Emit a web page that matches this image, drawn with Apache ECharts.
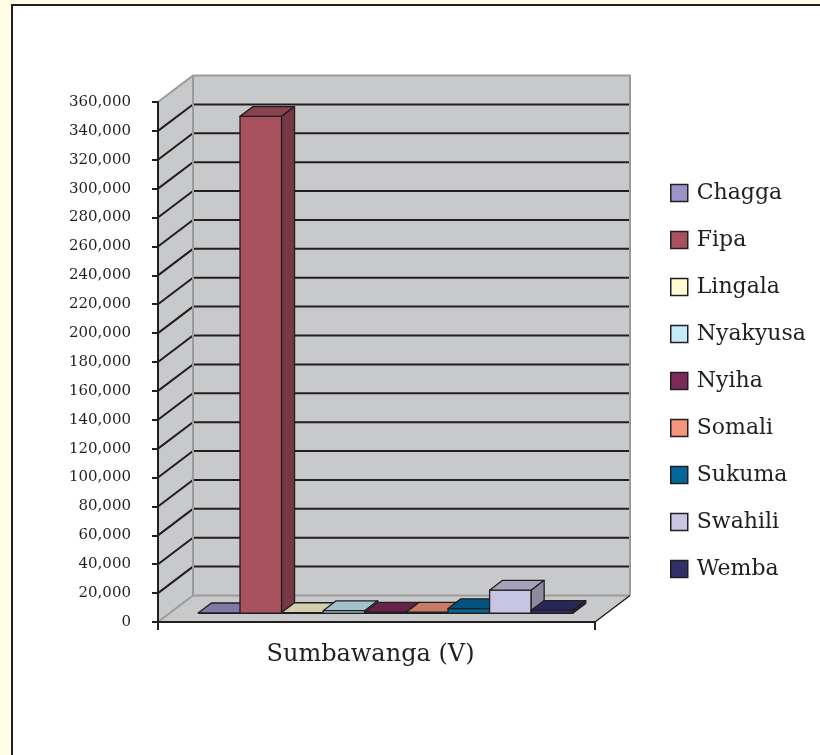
<!DOCTYPE html>
<html>
<head>
<meta charset="utf-8">
<script src="https://cdn.jsdelivr.net/npm/echarts@6/dist/echarts.min.js"></script>
<style>
  html, body { margin: 0; padding: 0; background: #fffde6; }
  #frame {
    position: absolute; left: 11px; top: 4px; right: 0; bottom: 0;
    background: #ffffff;
    border-left: 2px solid #231f20; border-top: 2px solid #231f20;
  }
  #chart { position: absolute; left: 0; top: 0; width: 820px; height: 755px; }
</style>
</head>
<body>
<div id="frame"></div>
<div id="chart"></div>
<script>
// Speakers by language, Sumbawanga (V)
const categories = ['Sumbawanga (V)'];
const languages = ['Chagga', 'Fipa', 'Lingala', 'Nyakyusa', 'Nyiha', 'Somali', 'Sukuma', 'Swahili', 'Wemba'];
const speakers = [300, 344000, 500, 1800, 700, 800, 3200, 16000, 2000];
const colors = ['#9b93c9', '#a8525f', '#fffcd2', '#c6ebf8', '#7c2b58', '#f4967b', '#02679b', '#c8c5e3', '#30306b'];
const yTickValues = [0, 20000, 40000, 60000, 80000, 100000, 120000, 140000, 160000, 180000,
                     200000, 220000, 240000, 260000, 280000, 300000, 320000, 340000, 360000];
const yTickLabels = ['0', '20,000', '40,000', '60,000', '80,000', '100,000', '120,000', '140,000', '160,000', '180,000',
                     '200,000', '220,000', '240,000', '260,000', '280,000', '300,000', '320,000', '340,000', '360,000'];

// pseudo-3D layout: full depth of the box in pixels and bar placement inside it
const DEPTH = [35, -26.5];
const BAR_FRONT = 0.33, BAR_BACK = 0.70;
const GROUP_START = 0.066, BAR_WIDTH = 0.0952;
const INK = '#231f20';
const WALL = '#c8c9cb';
const EDGE = '#9b9b9b';
const FONT = 'DejaVu Serif';

function shade(hex, k) {
  const n = parseInt(hex.slice(1), 16);
  const r = Math.round(((n >> 16) & 255) * k);
  const g = Math.round(((n >> 8) & 255) * k);
  const b = Math.round((n & 255) * k);
  return 'rgb(' + r + ',' + g + ',' + b + ')';
}

function renderWalls(params, api) {
  const c0 = api.coord([0, 0]);
  const cTop = api.coord([0, yTickValues[yTickValues.length - 1]]);
  const bw = api.size([1, 0])[0];
  const x0 = c0[0] - bw / 2, x1 = x0 + bw;
  const yb = c0[1], yt = cTop[1];
  const dx = DEPTH[0], dy = DEPTH[1];
  const children = [];
  const fill = { fill: WALL, stroke: null };
  children.push({ type: 'polygon', shape: { points: [[x0, yb], [x0 + dx, yb + dy], [x0 + dx, yt + dy], [x0, yt]] }, style: fill });
  children.push({ type: 'polygon', shape: { points: [[x0 + dx, yb + dy], [x1 + dx, yb + dy], [x1 + dx, yt + dy], [x0 + dx, yt + dy]] }, style: fill });
  children.push({ type: 'polygon', shape: { points: [[x0, yb], [x1, yb], [x1 + dx, yb + dy], [x0 + dx, yb + dy]] }, style: fill });
  // gridlines running across the side wall and the back wall
  for (let k = 1; k < yTickValues.length - 1; k++) {
    const y = api.coord([0, yTickValues[k]])[1];
    children.push({ type: 'polyline', shape: { points: [[x0, y], [x0 + dx, y + dy], [x1 + dx, y + dy]] },
      style: { stroke: INK, lineWidth: 2, fill: null } });
  }
  const edge = { stroke: EDGE, lineWidth: 2, fill: null };
  children.push({ type: 'polyline', shape: { points: [[x0, yt], [x0 + dx, yt + dy], [x1 + dx, yt + dy], [x1 + dx, yb + dy]] }, style: edge });
  children.push({ type: 'polyline', shape: { points: [[x0 + dx, yt + dy], [x0 + dx, yb + dy], [x1 + dx, yb + dy]] }, style: edge });
  children.push({ type: 'line', shape: { x1: x0, y1: yb, x2: x0 + dx, y2: yb + dy }, style: edge });
  children.push({ type: 'line', shape: { x1: x1, y1: yb, x2: x1 + dx, y2: yb + dy }, style: { stroke: INK, lineWidth: 1.5 } });
  return { type: 'group', children: children };
}

function makeBarRenderer(i) {
  return function (params, api) {
    const c0 = api.coord([0, 0]);
    const c1 = api.coord([0, api.value(1)]);
    const bw = api.size([1, 0])[0];
    const left = c0[0] - bw / 2 + bw * (GROUP_START + i * BAR_WIDTH);
    const right = left + bw * BAR_WIDTH;
    const fx = DEPTH[0] * BAR_FRONT, fy = DEPTH[1] * BAR_FRONT;
    const bx = DEPTH[0] * BAR_BACK, by = DEPTH[1] * BAR_BACK;
    const yb = c0[1], yt = c1[1];
    const base = colors[i];
    const line = { stroke: INK, lineWidth: 1.3, lineJoin: 'round' };
    return {
      type: 'group',
      children: [
        { type: 'polygon', shape: { points: [[left + fx, yb + fy], [right + fx, yb + fy], [right + fx, yt + fy], [left + fx, yt + fy]] },
          style: Object.assign({ fill: base }, line) },
        { type: 'polygon', shape: { points: [[left + fx, yt + fy], [right + fx, yt + fy], [right + bx, yt + by], [left + bx, yt + by]] },
          style: Object.assign({ fill: shade(base, 0.82) }, line) },
        { type: 'polygon', shape: { points: [[right + fx, yt + fy], [right + bx, yt + by], [right + bx, yb + by], [right + fx, yb + fy]] },
          style: Object.assign({ fill: shade(base, 0.7) }, line) }
      ]
    };
  };
}

const series = [{
  type: 'custom',
  name: 'walls',
  z: 1,
  silent: true,
  renderItem: renderWalls,
  data: [[0, 0]],
  encode: { x: 0, y: 1 }
}];
languages.forEach(function (name, i) {
  series.push({
    type: 'custom',
    name: name,
    z: 3 + i,
    itemStyle: { color: colors[i] },
    renderItem: makeBarRenderer(i),
    data: [[0, speakers[i]]],
    encode: { x: 0, y: 1 }
  });
});

const chart = echarts.init(document.getElementById('chart'), null, { renderer: 'canvas' });
chart.setOption({
  backgroundColor: 'transparent',
  animation: false,
  grid: { left: 158, top: 102, width: 437, height: 520, containLabel: false },
  xAxis: {
    type: 'category',
    data: categories,
    boundaryGap: true,
    z: 20,
    axisLine: { show: true, lineStyle: { color: INK, width: 2 } },
    axisTick: { show: true, length: 8, lineStyle: { color: INK, width: 2 } },
    axisLabel: { margin: 21, color: INK, fontFamily: FONT, fontSize: 24, padding: [0, 12, 0, 0] },
    splitLine: { show: false }
  },
  yAxis: {
    type: 'value',
    min: 0,
    max: 360000,
    interval: 20000,
    z: 20,
    axisLine: { show: true, lineStyle: { color: INK, width: 2 } },
    axisTick: { show: true, length: 6, lineStyle: { color: INK, width: 2 } },
    axisLabel: {
      margin: 27, color: INK, fontFamily: FONT, fontSize: 15,
      formatter: function (v) {
        const k = yTickValues.indexOf(v);
        return k >= 0 ? yTickLabels[k] : '';
      }
    },
    splitLine: { show: false }
  },
  legend: {
    data: languages,
    orient: 'vertical',
    left: 665,
    top: 177,
    itemWidth: 17,
    itemHeight: 17,
    itemGap: 25,
    icon: 'rect',
    itemStyle: { borderColor: INK, borderWidth: 1.5 },
    textStyle: { color: INK, fontFamily: FONT, fontSize: 22, lineHeight: 22, padding: [0, 0, 0, 4] },
    selectedMode: false
  },
  series: series
});
</script>
</body>
</html>
